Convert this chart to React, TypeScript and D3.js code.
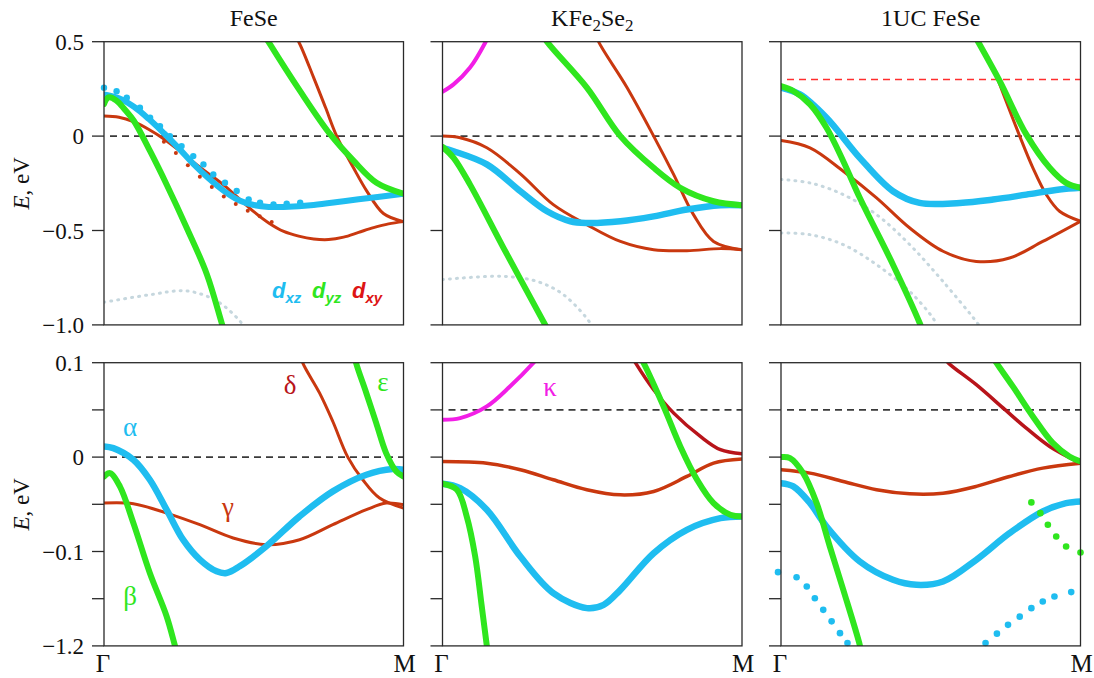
import React, { useEffect, useState } from "react";
import * as d3 from "d3";

type P = [number, number];

// ---------- axis / labels ----------
const titles = ["FeSe", "KFe2Se2", "1UC FeSe"];
const topTicks = [0.5, 0, -0.5, -1.0];
const topTickLabels = ["0.5", "0", "\u22120.5", "\u22121.0"];
const botTicks = [0.1, 0.05, 0, -0.05, -0.1, -0.15, -0.2];
const botLabelTicks = [0.1, 0, -0.1, -0.2];
const botTickLabels = ["0.1", "0", "\u22120.1", "\u22121.2"];
const kLabels = ["\u0393", "M"];

// ---------- FeSe top (E, eV from -1 to 0.5) ----------
const fesTopBlue: P[] = [[0, 0.22], [0.05, 0.2], [0.1, 0.155], [0.15, 0.09], [0.2, 0.015], [0.25, -0.065], [0.3, -0.15], [0.35, -0.225], [0.4, -0.29], [0.45, -0.34], [0.5, -0.365], [0.55, -0.375], [0.6, -0.375], [0.7, -0.365], [0.8, -0.345], [0.9, -0.325], [1, -0.305]];
const fesTopBlueDots: P[] = [[0, 0.256], [0.042, 0.238], [0.076, 0.203], [0.12, 0.15], [0.154, 0.097], [0.187, 0.053], [0.22, 0.0], [0.259, -0.053], [0.298, -0.106], [0.332, -0.15], [0.365, -0.203], [0.404, -0.247], [0.443, -0.291], [0.483, -0.335], [0.521, -0.353], [0.566, -0.362], [0.61, -0.358], [0.655, -0.353]];
const fesTopRed1: P[] = [[0, 0.106], [0.05, 0.1], [0.1, 0.075], [0.15, 0.035], [0.2, -0.015], [0.25, -0.075], [0.3, -0.14], [0.35, -0.2], [0.4, -0.26], [0.45, -0.33], [0.5, -0.4], [0.55, -0.46], [0.6, -0.505], [0.65, -0.53], [0.7, -0.545], [0.75, -0.548], [0.8, -0.535], [0.85, -0.51], [0.9, -0.485], [0.95, -0.465], [1, -0.453]];
const fesTopRedDots: P[] = [[0.2, -0.03], [0.24, -0.09], [0.28, -0.155], [0.32, -0.215], [0.36, -0.27], [0.4, -0.32], [0.44, -0.36], [0.48, -0.395], [0.52, -0.425], [0.56, -0.455]];
const fesTopRed2: P[] = [[0.63, 0.55], [0.65, 0.5], [0.7, 0.31], [0.74, 0.15], [0.777, 0], [0.833, -0.168], [0.877, -0.29], [0.933, -0.41], [1, -0.453]];
const fesTopGreen1: P[] = [[0, 0.17], [0.015, 0.205], [0.04, 0.19], [0.07, 0.14], [0.1, 0.08], [0.154, -0.08], [0.209, -0.256], [0.276, -0.485], [0.343, -0.73], [0.393, -0.99], [0.41, -1.08]];
const fesTopGreen2: P[] = [[0.53, 0.55], [0.549, 0.5], [0.655, 0.238], [0.755, 0.01], [0.833, -0.13], [0.91, -0.247], [1, -0.305]];
const fesTopPale: P[] = [[0, -0.88], [0.154, -0.84], [0.276, -0.82], [0.376, -0.873], [0.454, -0.98], [0.47, -1.02]];

// ---------- KFe2Se2 top ----------
const kfsTopMagenta: P[] = [[0, 0.235], [0.037, 0.274], [0.092, 0.363], [0.143, 0.496], [0.15, 0.52]];
const kfsTopGreen1: P[] = [[0, -0.057], [0.037, -0.115], [0.092, -0.257], [0.204, -0.593], [0.343, -1.0], [0.36, -1.05]];
const kfsTopBlue: P[] = [[0, -0.062], [0.037, -0.08], [0.148, -0.15], [0.26, -0.292], [0.349, -0.398], [0.427, -0.451], [0.482, -0.46], [0.594, -0.451], [0.705, -0.425], [0.816, -0.389], [0.928, -0.366], [1, -0.366]];
const kfsTopRed1: P[] = [[0, 0], [0.059, -0.009], [0.148, -0.062], [0.26, -0.2], [0.37, -0.363], [0.482, -0.469], [0.594, -0.558], [0.705, -0.602], [0.816, -0.607], [0.928, -0.596], [1, -0.602]];
const kfsTopRed2: P[] = [[0.51, 0.55], [0.521, 0.5], [0.616, 0.257], [0.705, 0], [0.772, -0.204], [0.838, -0.416], [0.905, -0.558], [1, -0.602]];
const kfsTopGreen2: P[] = [[0.33, 0.55], [0.349, 0.5], [0.482, 0.257], [0.594, 0], [0.705, -0.168], [0.794, -0.274], [0.905, -0.345], [1, -0.366]];
const kfsTopPale: P[] = [[0, -0.76], [0.204, -0.743], [0.316, -0.77], [0.404, -0.84], [0.493, -0.99], [0.5, -1.02]];

// ---------- 1UC FeSe top ----------
const ucTopGreen1: P[] = [[0, 0.265], [0.041, 0.239], [0.097, 0.168], [0.152, 0.044], [0.208, -0.133], [0.263, -0.327], [0.374, -0.681], [0.463, -0.99], [0.47, -1.02]];
const ucTopBlue: P[] = [[0, 0.257], [0.063, 0.221], [0.152, 0.097], [0.263, -0.115], [0.374, -0.292], [0.463, -0.354], [0.597, -0.354], [0.708, -0.336], [0.819, -0.31], [0.93, -0.283], [1, -0.274]];
const ucTopRed1: P[] = [[0, -0.023], [0.097, -0.062], [0.208, -0.186], [0.319, -0.327], [0.43, -0.487], [0.541, -0.61], [0.652, -0.664], [0.763, -0.646], [0.874, -0.558], [1, -0.451]];
const ucTopRed2: P[] = [[0.724, 0.3], [0.797, 0], [0.841, -0.168], [0.886, -0.31], [0.93, -0.398], [1, -0.451]];
const ucTopGreen2: P[] = [[0.64, 0.55], [0.658, 0.5], [0.73, 0.292], [0.819, 0.009], [0.897, -0.168], [0.952, -0.248], [1, -0.274]];
const ucTopPale1: P[] = [[0, -0.23], [0.097, -0.248], [0.208, -0.31], [0.319, -0.416], [0.43, -0.575], [0.541, -0.77], [0.652, -0.982], [0.66, -1.0]];
const ucTopPale2: P[] = [[0, -0.513], [0.097, -0.522], [0.208, -0.575], [0.319, -0.681], [0.43, -0.823], [0.508, -0.965], [0.52, -1.0]];

// ---------- FeSe bottom (E from -0.2 to 0.1) ----------
const fesBotAlpha: P[] = [[0, 0.0113], [0.031, 0.0095], [0.098, -0.0028], [0.153, -0.024], [0.209, -0.0557], [0.264, -0.0875], [0.32, -0.1086], [0.376, -0.121], [0.409, -0.1228], [0.453, -0.1157], [0.542, -0.0945], [0.653, -0.0628], [0.764, -0.0363], [0.876, -0.0187], [0.964, -0.0127], [1, -0.0134]];
const fesBotBeta: P[] = [[0, -0.0205], [0.02, -0.017], [0.053, -0.031], [0.098, -0.0698], [0.153, -0.1228], [0.209, -0.1686], [0.237, -0.2], [0.25, -0.215]];
const fesBotGamma: P[] = [[0, -0.0487], [0.098, -0.0494], [0.209, -0.0593], [0.32, -0.0716], [0.431, -0.0857], [0.542, -0.0928], [0.653, -0.0875], [0.764, -0.0716], [0.876, -0.0557], [0.942, -0.0487], [1, -0.0504]];
const fesBotDelta: P[] = [[0.655, 0.11], [0.664, 0.0995], [0.72, 0.0677], [0.764, 0.0377], [0.814, 0], [0.864, -0.024], [0.92, -0.0434], [1, -0.054]];
const fesBotEps: P[] = [[0.835, 0.11], [0.842, 0.0995], [0.876, 0.0677], [0.909, 0.036], [0.942, 0.0042], [0.976, -0.0152], [1, -0.0205]];

// ---------- KFe2Se2 bottom ----------
const kfsBotKappa: P[] = [[0, 0.0396], [0.059, 0.0413], [0.148, 0.0537], [0.226, 0.075], [0.304, 0.1], [0.32, 0.106]];
const kfsBotRed1: P[] = [[0, -0.0046], [0.148, -0.0064], [0.26, -0.0134], [0.37, -0.024], [0.482, -0.0346], [0.594, -0.04], [0.705, -0.0364], [0.816, -0.0205], [0.905, -0.0064], [1, -0.0021]];
const kfsBotRed2: P[] = [[0.635, 0.105], [0.644, 0.1], [0.705, 0.0714], [0.772, 0.0466], [0.861, 0.0219], [0.928, 0.0078], [1, 0.0035]];
const kfsBotGreen1: P[] = [[0, -0.0283], [0.048, -0.0346], [0.081, -0.063], [0.109, -0.105], [0.131, -0.158], [0.148, -0.2], [0.155, -0.215]];
const kfsBotBlue: P[] = [[0, -0.0283], [0.059, -0.0329], [0.148, -0.0558], [0.26, -0.1053], [0.37, -0.144], [0.482, -0.16], [0.538, -0.1565], [0.594, -0.1406], [0.705, -0.1018], [0.816, -0.077], [0.928, -0.0647], [1, -0.0629]];
const kfsBotGreen2: P[] = [[0.66, 0.106], [0.671, 0.1], [0.738, 0.0537], [0.794, 0.0113], [0.85, -0.024], [0.905, -0.0488], [0.961, -0.0611], [1, -0.0629]];

// ---------- 1UC FeSe bottom ----------
const ucBotRed1: P[] = [[0, -0.0134], [0.097, -0.017], [0.208, -0.0258], [0.319, -0.0346], [0.43, -0.0389], [0.541, -0.0382], [0.652, -0.031], [0.763, -0.0205], [0.874, -0.0117], [1, -0.0064]];
const ucBotRed2: P[] = [[0.55, 0.104], [0.558, 0.1], [0.652, 0.0767], [0.747, 0.0505], [0.819, 0.0307], [0.897, 0.0113], [1, -0.0064]];
const ucBotGreen1: P[] = [[0, 0.0], [0.03, -0.001], [0.074, -0.017], [0.119, -0.0488], [0.163, -0.0947], [0.208, -0.1406], [0.263, -0.199], [0.27, -0.21]];
const ucBotBlue: P[] = [[0, -0.0276], [0.041, -0.031], [0.097, -0.0488], [0.152, -0.0735], [0.263, -0.1106], [0.374, -0.13], [0.452, -0.1353], [0.541, -0.1318], [0.652, -0.1088], [0.763, -0.0806], [0.874, -0.0576], [0.952, -0.0488], [1, -0.047]];
const ucBotGreen2: P[] = [[0.71, 0.105], [0.719, 0.1], [0.774, 0.0749], [0.841, 0.0431], [0.908, 0.0148], [0.963, 0.0007], [1, -0.0046]];
const ucBotGreenDots: P[] = [[0.836, -0.048], [0.866, -0.0594], [0.891, -0.0717], [0.919, -0.0841], [0.952, -0.0947], [1.0, -0.101]];
const ucBotBlueDotsL: P[] = [[-0.01, -0.1219], [0.052, -0.1272], [0.086, -0.137], [0.113, -0.1495], [0.141, -0.1618], [0.169, -0.174], [0.197, -0.1865], [0.222, -0.197]];
const ucBotBlueDotsR: P[] = [[0.683, -0.197], [0.721, -0.187], [0.758, -0.1777], [0.797, -0.169], [0.836, -0.16], [0.874, -0.153], [0.913, -0.1477], [0.969, -0.143]];

// ---------- styling ----------
const C = {
  blue: "#1fbdf0",
  green: "#2fe61e",
  red: "#c9380f",
  dark: "#b8141a",
  mag: "#f21ee6",
  pale: "#c6d7de",
  dash: "#3a3a3a",
  redDash: "#ff2e2e",
};

const colX = [104, 442.5, 781];
const panelW = 299.5;
const rowY = [41.7, 362.7];
const panelH = 283.2;
const SERIF = "Liberation Serif";
const SANS = "Liberation Sans";
const serifCss = { fontFamily: SERIF };
const sansCss = { fontFamily: SANS };

type Line = { data: P[]; color: string; w: number; dash?: string };
type Dots = { data: P[]; color: string; r: number };
type Panel = {
  row: number;
  col: number;
  fermi: number;
  extraDash?: number;
  lines: Line[];
  dots?: Dots[];
};

const pale = (data: P[]): Line => ({ data, color: C.pale, w: 3, dash: "1,6" });

const panels: Panel[] = [
  {
    row: 0, col: 0, fermi: 0,
    lines: [pale(fesTopPale),
      { data: fesTopRed1, color: C.red, w: 3 }, { data: fesTopRed2, color: C.red, w: 3 },
      { data: fesTopBlue, color: C.blue, w: 6 },
      { data: fesTopGreen1, color: C.green, w: 6 }, { data: fesTopGreen2, color: C.green, w: 6 }],
    dots: [{ data: fesTopBlueDots, color: C.blue, r: 3.2 }, { data: fesTopRedDots, color: C.red, r: 2 }],
  },
  {
    row: 0, col: 1, fermi: 0,
    lines: [pale(kfsTopPale),
      { data: kfsTopRed1, color: C.red, w: 3 }, { data: kfsTopRed2, color: C.red, w: 3 },
      { data: kfsTopBlue, color: C.blue, w: 6.5 },
      { data: kfsTopGreen1, color: C.green, w: 6 }, { data: kfsTopGreen2, color: C.green, w: 6 },
      { data: kfsTopMagenta, color: C.mag, w: 4 }],
  },
  {
    row: 0, col: 2, fermi: 0, extraDash: 0.3,
    lines: [pale(ucTopPale1), pale(ucTopPale2),
      { data: ucTopRed1, color: C.red, w: 3 }, { data: ucTopRed2, color: C.red, w: 3 },
      { data: ucTopBlue, color: C.blue, w: 6.5 },
      { data: ucTopGreen1, color: C.green, w: 6 }, { data: ucTopGreen2, color: C.green, w: 6 }],
  },
  {
    row: 1, col: 0, fermi: 0,
    lines: [
      { data: fesBotGamma, color: C.red, w: 3 }, { data: fesBotDelta, color: C.red, w: 3 },
      { data: fesBotAlpha, color: C.blue, w: 6.5 },
      { data: fesBotBeta, color: C.green, w: 6 }, { data: fesBotEps, color: C.green, w: 6 }],
  },
  {
    row: 1, col: 1, fermi: 0.05,
    lines: [
      { data: kfsBotRed1, color: C.red, w: 3.5 }, { data: kfsBotRed2, color: C.dark, w: 3.5 },
      { data: kfsBotBlue, color: C.blue, w: 6.5 },
      { data: kfsBotGreen1, color: C.green, w: 6 }, { data: kfsBotGreen2, color: C.green, w: 6 },
      { data: kfsBotKappa, color: C.mag, w: 4 }],
  },
  {
    row: 1, col: 2, fermi: 0.05,
    lines: [
      { data: ucBotRed1, color: C.red, w: 3.5 }, { data: ucBotRed2, color: C.dark, w: 3.5 },
      { data: ucBotBlue, color: C.blue, w: 6.5 },
      { data: ucBotGreen1, color: C.green, w: 6 }, { data: ucBotGreen2, color: C.green, w: 6 }],
    dots: [{ data: ucBotGreenDots, color: C.green, r: 3.3 }, { data: ucBotBlueDotsL, color: C.blue, r: 3.3 }, { data: ucBotBlueDotsR, color: C.blue, r: 3.3 }],
  },
];

const greek = [
  { t: "\u03b1", x: 130, y: 428, c: C.blue },
  { t: "\u03b2", x: 130, y: 597, c: C.green },
  { t: "\u03b3", x: 228, y: 508, c: C.red },
  { t: "\u03b4", x: 290, y: 386, c: C.dark },
  { t: "\u03b5", x: 383, y: 383, c: C.green },
  { t: "\u03ba", x: 550, y: 388, c: C.mag },
];

const legendItems = [
  { sub: "xz", x: 272, c: C.blue },
  { sub: "yz", x: 312, c: C.green },
  { sub: "xy", x: 352, c: "#dd1515" },
];

function PanelMarks({ p, idx }: { p: Panel; idx: number }) {
  const x0 = colX[p.col];
  const y0 = rowY[p.row];
  const x = d3.scaleLinear().domain([0, 1]).range([x0, x0 + panelW]);
  const y = d3
    .scaleLinear()
    .domain(p.row === 0 ? [-1, 0.5] : [-0.2, 0.1])
    .range([y0 + panelH, y0]);
  const line = d3
    .line<P>()
    .x((d) => x(d[0]))
    .y((d) => y(d[1]))
    .curve(d3.curveCatmullRom.alpha(0.5));
  const ticks = p.row === 0 ? topTicks : botTicks;
  const clipId = `clip${idx}`;
  return (
    <g>
      <defs>
        <clipPath id={clipId}>
          <rect x={x0} y={y0} width={panelW} height={panelH} />
        </clipPath>
      </defs>
      <g clipPath={`url(#${clipId})`}>
        <line x1={x0 + 6} x2={x0 + panelW} y1={y(p.fermi)} y2={y(p.fermi)} stroke={C.dash} strokeWidth={1.6} strokeDasharray="7,5" />
        {p.extraDash !== undefined && (
          <line x1={x0 + 6} x2={x0 + panelW} y1={y(p.extraDash)} y2={y(p.extraDash)} stroke={C.redDash} strokeWidth={1.6} strokeDasharray="7,5" />
        )}
        {p.lines.map((l, i) => (
          <path key={i} d={line(l.data) || ""} fill="none" stroke={l.color} strokeWidth={l.w} strokeDasharray={l.dash} strokeLinecap="round" strokeLinejoin="round" />
        ))}
      </g>
      {p.dots &&
        p.dots.map((ds, i) => (
          <g key={i}>
            {ds.data.map((d, j) => (
              <circle key={j} cx={x(d[0])} cy={y(d[1])} r={ds.r} fill={ds.color} />
            ))}
          </g>
        ))}
      <rect x={x0} y={y0} width={panelW} height={panelH} fill="none" stroke="#2a2a2a" strokeWidth={1.3} />
      {ticks.map((t, i) => (
        <line key={i} x1={x0 - 12} x2={x0} y1={y(t)} y2={y(t)} stroke="#2a2a2a" strokeWidth={1.3} />
      ))}
    </g>
  );
}

function PanelText({ p }: { p: Panel }) {
  const x0 = colX[p.col];
  const y0 = rowY[p.row];
  const x = d3.scaleLinear().domain([0, 1]).range([x0, x0 + panelW]);
  const y = d3
    .scaleLinear()
    .domain(p.row === 0 ? [-1, 0.5] : [-0.2, 0.1])
    .range([y0 + panelH, y0]);
  return (
    <g>
      {p.col === 0 &&
        (p.row === 0 ? topTicks : botLabelTicks).map((t, i) => (
          <text key={i} x={x0 - 20} y={y(t)} dy="0.35em" textAnchor="end" fontFamily={SERIF} style={serifCss} fontSize={23} fill="#111">
            {(p.row === 0 ? topTickLabels : botTickLabels)[i]}
          </text>
        ))}
      {p.row === 1 && (
        <g>
          <text x={x(0) - 1} y={672} fontFamily={SERIF} style={serifCss} fontSize={25} fill="#111" textAnchor="middle">{kLabels[0]}</text>
          <text x={x(1) + 1} y={672} fontFamily={SERIF} style={serifCss} fontSize={25} fill="#111" textAnchor="middle">{kLabels[1]}</text>
        </g>
      )}
    </g>
  );
}

export default function App() {
  const [fontKey, setFontKey] = useState(0);
  useEffect(() => {
    const bump = () => setFontKey((k) => k + 1);
    const fs = (document as any).fonts;
    if (fs && fs.ready) fs.ready.then(bump);
    const t = setTimeout(bump, 150);
    return () => clearTimeout(t);
  }, []);
  return (
    <svg
      width={1094}
      height={678}
      viewBox="0 0 1094 678"
      style={{ position: "absolute", left: 0, top: 0, background: "#fff" }}
    >
      <rect x={0} y={0} width={1094} height={678} fill="#fff" />
      {panels.map((p, i) => (
        <PanelMarks key={i} p={p} idx={i} />
      ))}
      <g key={fontKey}>
        {/* titles */}
        <text x={colX[0] + panelW / 2} y={26} fontFamily={SERIF} style={serifCss} fontSize={24} fill="#111" textAnchor="middle">{titles[0]}</text>
        <text x={colX[1] + panelW / 2} y={26} fontFamily={SERIF} style={serifCss} fontSize={24} fill="#111" textAnchor="middle">
          KFe<tspan fontSize={17} dy={5}>2</tspan>
          <tspan dy={-5}>Se</tspan>
          <tspan fontSize={17} dy={5}>2</tspan>
        </text>
        <text x={colX[2] + panelW / 2} y={26} fontFamily={SERIF} style={serifCss} fontSize={24} fill="#111" textAnchor="middle">{titles[2]}</text>
        {/* y-axis labels */}
        {[rowY[0] + panelH / 2, rowY[1] + panelH / 2].map((cy, i) => (
          <text key={i} transform={`translate(29,${cy}) rotate(-90)`} textAnchor="middle" fontFamily={SERIF} style={serifCss} fontSize={23} fill="#111">
            <tspan fontStyle="italic">E</tspan>, eV
          </text>
        ))}
        {panels.map((p, i) => (
          <PanelText key={i} p={p} />
        ))}
        {/* legend */}
        {legendItems.map((it, i) => (
          <text key={i} x={it.x} y={298} fill={it.c} fontSize={22} fontFamily={SANS} style={sansCss} fontWeight={700} fontStyle="italic">
            d<tspan fontSize={15} dy={5}>{it.sub}</tspan>
          </text>
        ))}
        {/* greek band labels */}
        {greek.map((g, i) => (
          <text key={i} x={g.x} y={g.y} dy="0.3em" fill={g.c} fontFamily={SERIF} style={serifCss} fontSize={27} textAnchor="middle">
            {g.t}
          </text>
        ))}
      </g>
    </svg>
  );
}
